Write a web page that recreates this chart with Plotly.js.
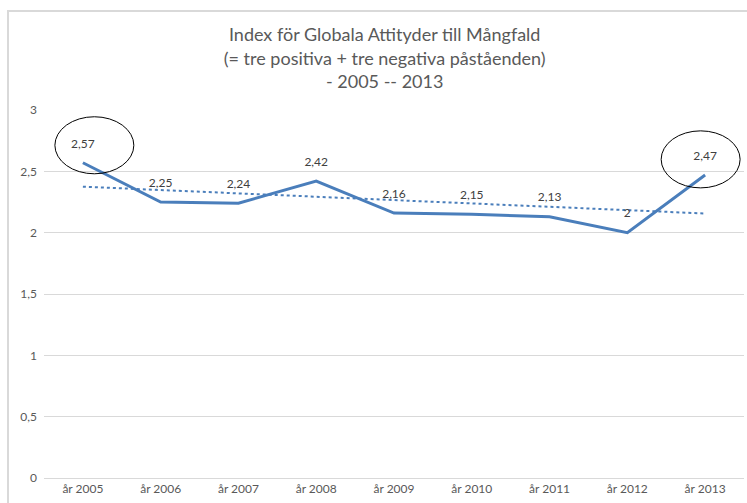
<!DOCTYPE html>
<html>
<head>
<meta charset="utf-8">
<script src="https://cdn.plot.ly/plotly-3.0.1.min.js"></script>
<style>
  html, body { margin: 0; padding: 0; background: #fff; }
  #chart { position: absolute; left: 0; top: 0; width: 747px; height: 503px; }
  #frame { position: absolute; left: 7px; top: 10px; width: 740px; height: 493px;
           border-left: 2px solid #d9d9d9; border-top: 2px solid #d9d9d9; pointer-events: none; }
</style>
</head>
<body>
<div id="chart"></div>
<div id="frame"></div>
<script>
// ---- data ----
const categories = ['år 2005', 'år 2006', 'år 2007', 'år 2008', 'år 2009', 'år 2010', 'år 2011', 'år 2012', 'år 2013'];
const indexValues = [2.57, 2.25, 2.24, 2.42, 2.16, 2.15, 2.13, 2.00, 2.47];
const yTickVals = [0, 0.5, 1, 1.5, 2, 2.5, 3];
const yTickText = ['0', '0,5', '1', '1,5', '2', '2,5', '3'];

// data labels with Swedish decimal comma
const labels = indexValues.map(v => String(v).replace('.', ','));

// linear trendline (least squares, as in the spreadsheet)
const n = indexValues.length;
const xs = indexValues.map((_, i) => i);
const mx = xs.reduce((a, b) => a + b, 0) / n;
const my = indexValues.reduce((a, b) => a + b, 0) / n;
let sxy = 0, sxx = 0;
xs.forEach((x, i) => { sxy += (x - mx) * (indexValues[i] - my); sxx += (x - mx) * (x - mx); });
const slope = sxy / sxx;
const trend = xs.map(x => my + slope * (x - mx));

const blue = '#4a7ebb';
const fam = 'Lato, "Open Sans", sans-serif';
const textFont = { family: fam, size: 12, color: '#404040' };

const traces = [
  {
    x: categories, y: trend, type: 'scatter', mode: 'lines',
    line: { color: blue, width: 2, dash: 'dot' }, hoverinfo: 'skip', showlegend: false
  },
  {
    x: categories, y: indexValues, type: 'scatter', mode: 'lines+markers+text',
    text: labels, textposition: 'top center', textfont: textFont,
    marker: { size: 18, color: 'rgba(0,0,0,0)', line: { width: 0 } },
    line: { color: blue, width: 3 }, hoverinfo: 'skip', showlegend: false, cliponaxis: false
  }
];

const layout = {
  width: 747, height: 503,
  margin: { l: 44, r: 3, t: 110, b: 25 },
  paper_bgcolor: 'rgba(0,0,0,0)', plot_bgcolor: 'rgba(0,0,0,0)',
  title: {
    text: 'Index för Globala Attityder till Mångfald<br>(= tre positiva + tre negativa påståenden)<br>- 2005 -- 2013',
    font: { family: fam, size: 18, color: '#595959' },
    x: 0.515, xref: 'container', xanchor: 'center',
    y: 0.918, yref: 'container', yanchor: 'top'
  },
  xaxis: {
    type: 'category', range: [-0.5, categories.length - 0.5],
    showgrid: false, zeroline: false, showline: false,
    ticks: '', ticklabelstandoff: 2,
    tickfont: { family: fam, size: 12, color: '#595959' },
    fixedrange: true
  },
  yaxis: {
    range: [0, 3], tickvals: yTickVals, ticktext: yTickText,
    showgrid: true, gridcolor: '#d9d9d9', gridwidth: 1,
    zeroline: true, zerolinecolor: '#d9d9d9', zerolinewidth: 1,
    showline: false, ticks: '', ticklabelstandoff: 6,
    tickfont: { family: fam, size: 12, color: '#595959' },
    fixedrange: true
  },
  shapes: [
    { type: 'circle', xref: 'x', yref: 'y', x0: -0.36, x1: 0.655, y0: 2.48, y1: 2.945,
      line: { color: '#000000', width: 1 }, fillcolor: 'rgba(0,0,0,0)' },
    { type: 'circle', xref: 'x', yref: 'y', x0: 7.435, x1: 8.45, y0: 2.365, y1: 2.83,
      line: { color: '#000000', width: 1 }, fillcolor: 'rgba(0,0,0,0)' }
  ]
};

Plotly.newPlot('chart', traces, layout, { displayModeBar: false, staticPlot: true });
</script>
</body>
</html>
